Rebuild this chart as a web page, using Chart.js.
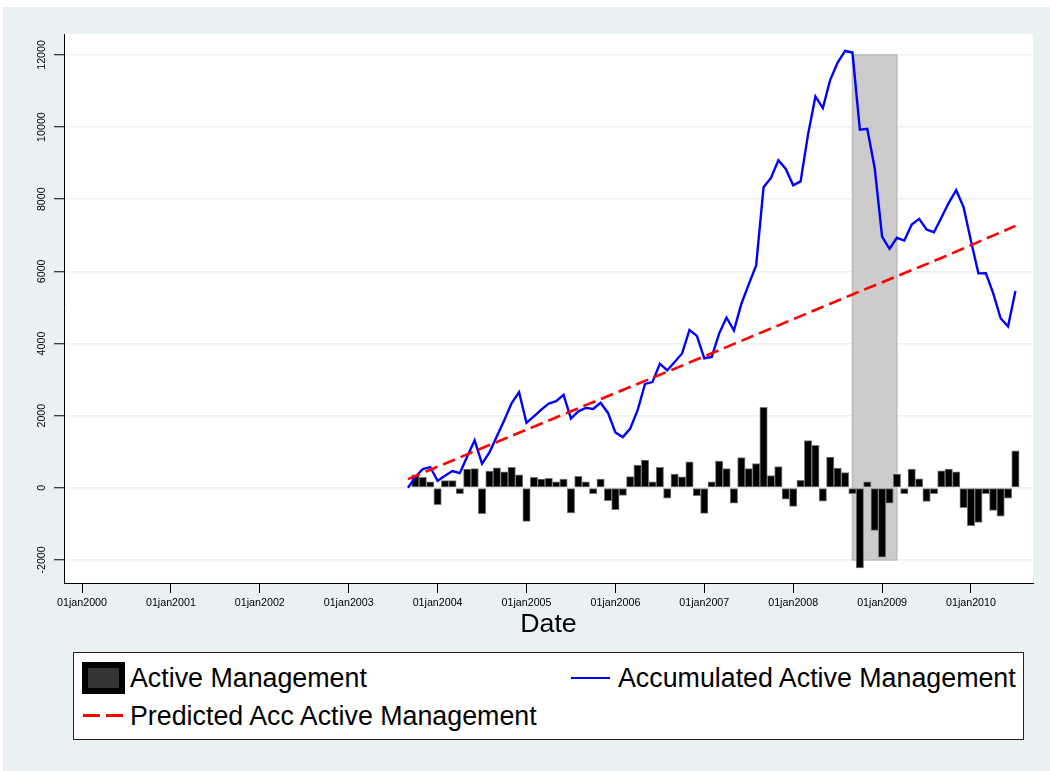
<!DOCTYPE html>
<html>
<head>
<meta charset="utf-8">
<script src="https://cdn.jsdelivr.net/npm/chart.js@4.4.0/dist/chart.umd.min.js"></script>
<style>
    html, body { margin: 0; padding: 0; background: #fff; }
    #wrap { position: relative; width: 1050px; height: 771px; overflow: hidden; }
    #chart { position: absolute; left: 0; top: 0; }
    .lg { position: absolute; font-family: 'Liberation Sans', Arial, sans-serif; font-size: 26.8px; line-height: 1; color: #000; white-space: nowrap; }
    .box { position: absolute; left: 73px; top: 652px; width: 949px; height: 86px; border: 1.5px solid #222; background: #fff; }
    .sw { position: absolute; }
</style>
</head>
<body>
<div id="wrap">
    <canvas id="chart" width="1050" height="771"></canvas>
    <div class="box"></div>
    <div class="sw" style="left:82px;top:662px;width:43px;height:32px;background:#000;"></div>
    <div class="sw" style="left:88px;top:668px;width:31px;height:20px;background:#343434;"></div>
    <div class="lg" style="left:130px;top:665px;">Active Management</div>
    <div class="sw" style="left:571px;top:677px;width:39px;height:2.4px;background:#0000ff;"></div>
    <div class="lg" style="left:618px;top:665px;">Accumulated Active Management</div>
    <div class="sw" style="left:83px;top:714px;width:17px;height:2.6px;background:#ff0000;"></div>
    <div class="sw" style="left:106px;top:714px;width:17px;height:2.6px;background:#ff0000;"></div>
    <div class="lg" style="left:130px;top:703px;">Predicted Acc Active Management</div>
</div>
<script>
// months counted from jan 2000 (0 = jan2000)
const barMonths = [45, 46, 47, 48, 49, 50, 51, 52, 53, 54, 55, 56, 57, 58, 59, 60, 61, 62, 63, 64,
    65, 66, 67, 68, 69, 70, 71, 72, 73, 74, 75, 76, 77, 78, 79, 80, 81, 82, 83, 84,
    85, 86, 87, 88, 89, 90, 91, 92, 93, 94, 95, 96, 97, 98, 99, 100, 101, 102, 103, 104,
    105, 106, 107, 108, 109, 110, 111, 112, 113, 114, 115, 116, 117, 118, 119, 120, 121, 122, 123, 124,
    125, 126];
const activeMgmt = [360, 290, 60, -470, 200, 200, -60, 520, 535, -720, 460, 550, 440, 570, 360, -930, 290, 240, 260, 60,
    240, -700, 320, 90, -30, 240, -360, -610, -210, 310, 630, 770, 50, 570, -290, 380, 300, 720, -220, -710,
    40, 740, 535, -424, 840, 535, 673, 2230, 341, 590, -313, -516, 203, 1309, 1180, -369, 848, 544, 424, -50,
    -2222, 30, -1180, -1927, -424, 378, -166, 516, 249, -378, -70, 470, 516, 443, -553, -1051, -959, -20, -627, -784,
    -286, 1023];

const accMonths = [44, 45, 46, 47, 48, 49, 50, 51, 52, 53, 54, 55, 56, 57, 58, 59, 60, 61, 62, 63,
    64, 65, 66, 67, 68, 69, 70, 71, 72, 73, 74, 75, 76, 77, 78, 79, 80, 81, 82, 83,
    84, 85, 86, 87, 88, 89, 90, 91, 92, 93, 94, 95, 96, 97, 98, 99, 100, 101, 102, 103,
    104, 105, 106, 107, 108, 109, 110, 111, 112, 113, 114, 115, 116, 117, 118, 119, 120, 121, 122, 123,
    124, 125, 126];
const accActiveMgmt = [0, 300, 520, 575, 195, 335, 465, 405, 870, 1315, 665, 980, 1425, 1870, 2350, 2650, 1800, 1980, 2165, 2335,
    2400, 2575, 1920, 2120, 2215, 2185, 2355, 2075, 1535, 1405, 1640, 2150, 2880, 2930, 3440, 3255, 3485, 3725, 4375, 4210,
    3590, 3625, 4275, 4720, 4360, 5100, 5640, 6165, 8330, 8590, 9080, 8840, 8385, 8495, 9790, 10850, 10525, 11310, 11790, 12110,
    12065, 9925, 9950, 8865, 6960, 6625, 6930, 6855, 7300, 7455, 7160, 7085, 7485, 7900, 8250, 7780, 6840, 5945, 5950, 5390,
    4700, 4470, 5455];

const predMonths = [44, 56, 68, 80, 92, 104, 116, 126];
const predAccActiveMgmt = [240, 1270, 2290, 3300, 4330, 5360, 6370, 7260];

const xTickMonths = [0, 12, 24, 36, 48, 60, 72, 84, 96, 108, 120];
const xTickLabels = ['01jan2000', '01jan2001', '01jan2002', '01jan2003', '01jan2004', '01jan2005',
    '01jan2006', '01jan2007', '01jan2008', '01jan2009', '01jan2010'];
const yTicks = [-2000, 0, 2000, 4000, 6000, 8000, 10000, 12000];

// recession shading (sep2008 - mar2009)
const shadeMonths = [104, 110];
const shadeRange = [-2000, 12000];

const FONT = "'Liberation Sans', Arial, sans-serif";
const BG = '#eaf1f3';

const backdrop = {
    id: 'backdrop',
    beforeDraw(chart) {
        const ctx = chart.ctx;
        const a = chart.chartArea;
        ctx.save();
        ctx.fillStyle = '#fff';
        ctx.fillRect(0, 0, chart.width, chart.height);
        ctx.fillStyle = BG;
        ctx.fillRect(3, 7, chart.width - 3, chart.height - 7);
        ctx.fillStyle = '#fff';
        ctx.fillRect(a.left, a.top, a.right - a.left, a.bottom - a.top);
        ctx.restore();
    },
    beforeDatasetsDraw(chart) {
        const ctx = chart.ctx;
        const x = chart.scales.x, y = chart.scales.y;
        const x0 = x.getPixelForValue(shadeMonths[0]), x1 = x.getPixelForValue(shadeMonths[1]);
        const y0 = y.getPixelForValue(shadeRange[1]), y1 = y.getPixelForValue(shadeRange[0]);
        ctx.save();
        ctx.fillStyle = '#cccccc';
        ctx.strokeStyle = '#bbbbbb';
        ctx.lineWidth = 1.5;
        ctx.fillRect(x0, y0, x1 - x0, y1 - y0);
        ctx.strokeRect(x0, y0, x1 - x0, y1 - y0);
        ctx.restore();
    },
    afterDraw(chart) {
        // vertical y tick labels, stata style
        const ctx = chart.ctx;
        const y = chart.scales.y;
        ctx.save();
        ctx.fillStyle = '#000';
        ctx.font = '10.7px ' + FONT;
        ctx.textAlign = 'center';
        ctx.textBaseline = 'middle';
        yTicks.forEach(v => {
            ctx.save();
            ctx.translate(42, y.getPixelForValue(v));
            ctx.rotate(-Math.PI / 2);
            ctx.fillText(String(v), 0, 0);
            ctx.restore();
        });
        ctx.restore();
    }
};

new Chart(document.getElementById('chart'), {
    type: 'bar',
    data: {
        datasets: [
            {
                type: 'line',
                label: 'Predicted Acc Active Management',
                data: predMonths.map((m, i) => ({ x: m, y: predAccActiveMgmt[i] })),
                borderColor: '#ff0000',
                borderWidth: 2.6,
                borderDash: [13, 6],
                pointRadius: 0,
                fill: false,
                tension: 0,
                order: 0
            },
            {
                type: 'line',
                label: 'Accumulated Active Management',
                data: accMonths.map((m, i) => ({ x: m, y: accActiveMgmt[i] })),
                borderColor: '#0000ff',
                borderWidth: 2.4,
                pointRadius: 0,
                fill: false,
                tension: 0,
                order: 1
            },
            {
                label: 'Active Management',
                data: barMonths.map((m, i) => ({ x: m, y: activeMgmt[i] })),
                backgroundColor: '#000',
                borderColor: '#777',
                borderWidth: 1,
                borderSkipped: false,
                barPercentage: 1,
                categoryPercentage: 1,
                minBarLength: 6,
                order: 2
            }
        ]
    },
    options: {
        responsive: false,
        animation: false,
        layout: { padding: { left: 0, top: 34, right: 17, bottom: 133 } },
        plugins: {
            legend: { display: false },
            tooltip: { enabled: false }
        },
        scales: {
            x: {
                type: 'linear',
                min: -2.43,
                max: 128.37,
                offset: false,
                afterBuildTicks: scale => { scale.ticks = xTickMonths.map(v => ({ value: v })); },
                afterFit: scale => { scale.height = 55; },
                ticks: {
                    autoSkip: false,
                    maxRotation: 0,
                    padding: 4,
                    color: '#000',
                    font: { family: FONT, size: 10.7 },
                    callback: v => xTickLabels[xTickMonths.indexOf(v)]
                },
                grid: { offset: false, drawOnChartArea: false, tickLength: 10, tickColor: '#000', tickWidth: 1 },
                border: { color: '#000', width: 1 },
                title: {
                    display: true,
                    text: 'Date',
                    color: '#000',
                    font: { family: FONT, size: 26.7, lineHeight: 1 },
                    padding: { top: 0, bottom: 0 }
                }
            },
            y: {
                min: -2640,
                max: 12580,
                afterBuildTicks: scale => { scale.ticks = yTicks.map(v => ({ value: v })); },
                afterFit: scale => { scale.width = 64; },
                ticks: { display: false },
                grid: { color: BG, lineWidth: 1.5, tickLength: 10, tickColor: '#000', tickWidth: 1 },
                border: { color: '#000', width: 1 }
            }
        }
    },
    plugins: [backdrop]
});
</script>
</body>
</html>
